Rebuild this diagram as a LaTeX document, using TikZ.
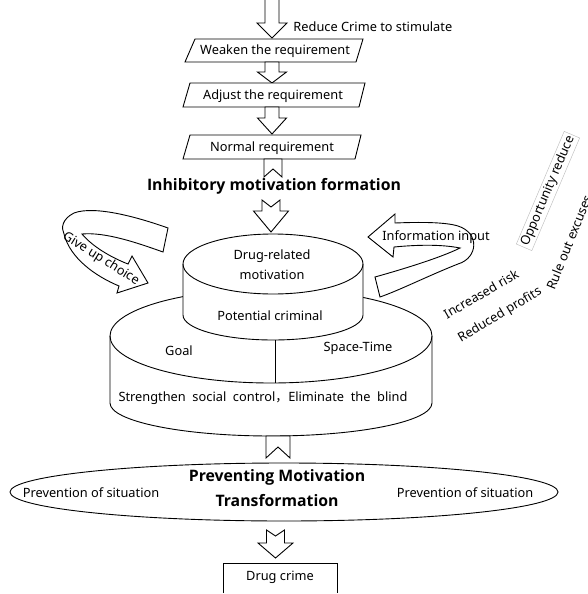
\documentclass[tikz,border=0pt]{standalone}
\usepackage{fontspec}
\setmainfont{Noto Sans}
\newfontfamily\cjkfont{Noto Sans CJK SC}
\newfontfamily\hdfont{Open Sans}
\newcommand\blkarrow[7]{% cx, top, head y, tip y, shaft half, head half, notch
  \draw[shp] (#1-#5,#2) -- (#1,#2+#7) -- (#1+#5,#2) -- (#1+#5,#3) -- (#1+#6,#3)
    -- (#1,#4) -- (#1-#6,#3) -- (#1-#5,#3) -- cycle;}
\newcommand\bookmark[4]{% cx, top, bottom, half width
  \draw[shp] (#1-#4,#2) -- (#1+#4,#2) -- (#1+#4,#3) -- (#1,#3-#4+1) -- (#1-#4,#3) -- cycle;}
\begin{document}
\begin{tikzpicture}[x=1pt,y=-1pt,line width=0.9pt,
  shp/.style={draw=black,fill=white,line join=miter},
  lbl/.style={font=\fontsize{12.8}{15}\selectfont,inner sep=0pt},
  hd/.style={font=\hdfont\fontsize{15.8}{18}\selectfont\bfseries,inner sep=0pt}]
\useasboundingbox[fill=white] (0,0) rectangle (588,594);

% ---- top chain
\blkarrow{272}{-3}{23}{38}{7}{15}{0}
\node[lbl,anchor=west] (reduce) at (293,27) {Reduce Crime to stimulate};
\draw[shp] (195,39) -- (363,39) -- (356,62) -- (185,62) -- cycle;
\node[lbl] (weaken) at (275,51) {Weaken the requirement};
\blkarrow{272}{62}{72}{83}{7}{14.5}{0}
\draw[shp] (190,83) -- (365,83) -- (359,107) -- (183,107) -- cycle;
\node[lbl] (adjust) at (273,96) {Adjust the requirement};
\blkarrow{272}{107}{118}{134}{7}{14.5}{0}
\draw[shp] (190,135) -- (361,135) -- (355,159) -- (183,159) -- cycle;
\node[lbl] (normal) at (272,148) {Normal requirement};
\bookmark{273}{159}{177}{9}
\node[hd] (inhib) at (274,186) {Inhibitory motivation formation};
\blkarrow{271}{200}{211}{232}{9}{17.5}{7}

% ---- big cylinder
\path[fill=white] (110,336) -- (110,403) arc[start angle=180,end angle=0,x radius=161,y radius=33] -- (432,336)
  arc[start angle=0,end angle=-180,x radius=161,y radius=47] -- cycle;
\draw (110,336) -- (110,403) arc[start angle=180,end angle=0,x radius=161,y radius=33] -- (432,336);
\draw (271,336) ellipse[x radius=161,y radius=47];
\draw (275,340) -- (275,383);
\node[lbl] (goal) at (179,351) {Goal};
\node[lbl] (space) at (358,348) {Space-Time};
\node[lbl] (strength) at (263,398) {Strengthen\ \ social\ \ control{\cjkfont ，}Eliminate\ \ the\ \ blind};

% ---- small cylinder
\path[fill=white] (183,264) -- (183,315) arc[start angle=180,end angle=0,x radius=90,y radius=25] -- (363,264)
  arc[start angle=0,end angle=-180,x radius=90,y radius=30] -- cycle;
\draw (183,264) -- (183,315) arc[start angle=180,end angle=0,x radius=90,y radius=25] -- (363,264);
\draw (273,264) ellipse[x radius=90,y radius=30];
\node[lbl] (drug1) at (272,256) {Drug-related};
\node[lbl] (drug2) at (272,275) {motivation};
\node[lbl] (potential) at (270,316) {Potential criminal};

% ---- left ribbon (give up choice)
\draw[shp] (168,228) .. controls (140,218) and (95,205) .. (74,213)
  .. controls (62,219) and (61,228) .. (64,234)
  .. controls (70,258) and (95,276) .. (119,286)
  -- (117,293) -- (148,283) -- (132,256) -- (128,264)
  .. controls (110,257) and (92,246) .. (82,234)
  .. controls (105,232) and (135,242) .. (163,252) -- cycle;
\node[lbl,rotate=-32] (giveup) at (101,259) {Give up choice};

% ---- right ribbon (information input)
\draw[shp] (368,237) -- (395,214) -- (395,223) .. controls (420,222) and (445,222) .. (458,226)
  .. controls (480,233) and (478,258) .. (458,264)
  .. controls (430,275) and (400,290) .. (380,297) -- (375,277)
  .. controls (400,270) and (440,258) .. (460,248)
  .. controls (440,244) and (415,245) .. (394,247) -- (393,257) -- cycle;
\node[lbl] (info) at (436,237) {Information input};

\node[lbl,rotate=30] (risk) at (481,294) {Increased risk};
\node[lbl,rotate=31] (profit) at (500,315) {Reduced profits};
\node[lbl,rotate=67,draw=gray!55,line width=0.4pt,inner sep=2pt] (opp) at (548,191) {Opportunity reduce};
\node[lbl,rotate=68,anchor=west] (rule) at (550,289) {Rule out excuses};

% ---- bottom
\bookmark{278}{436}{458}{12}
\draw (284,492) ellipse[x radius=274,y radius=29];
\node[hd] (prev1) at (277,477) {Preventing Motivation};
\node[hd] (prev2) at (277,501) {Transformation};
\node[lbl] (sitL) at (91,493) {Prevention of situation};
\node[lbl] (sitR) at (465,493) {Prevention of situation};
\blkarrow{275.5}{530}{543}{558}{9}{17.5}{6}
\draw (223,593) |- (337,563) -- (337,593);
\node[lbl] (crime) at (280,577) {Drug crime};
\end{tikzpicture}
\end{document}
